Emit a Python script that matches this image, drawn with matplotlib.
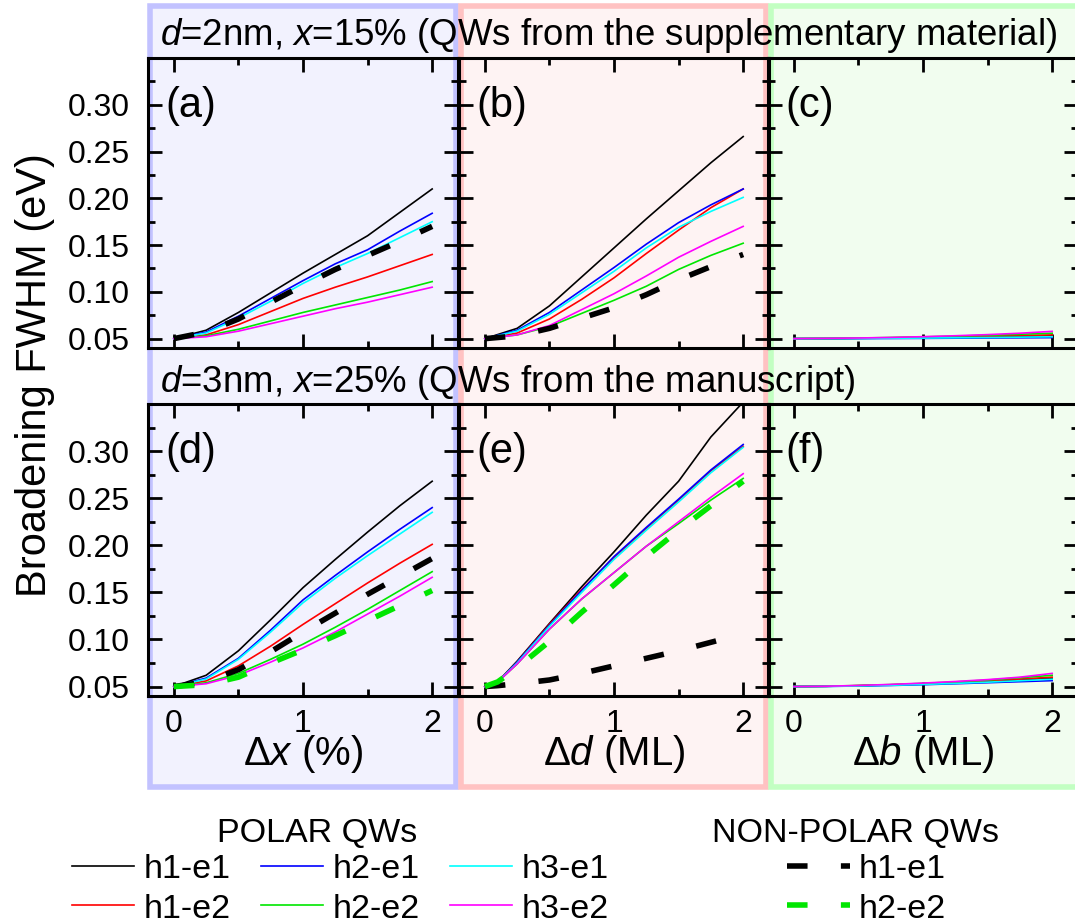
import matplotlib
matplotlib.use("Agg")
import matplotlib.pyplot as plt
from matplotlib.patches import Rectangle
from matplotlib.lines import Line2D
from matplotlib.ticker import FixedLocator, FormatStrFormatter

plt.rcParams['font.family'] = ['Liberation Sans', 'DejaVu Sans']
plt.rcParams['mathtext.fontset'] = 'custom'
plt.rcParams['mathtext.rm'] = 'Liberation Sans'
plt.rcParams['mathtext.it'] = 'Liberation Sans:italic'

# ---------------- data ----------------
XS = [0.0, 0.25, 0.5, 0.75, 1.0, 1.25, 1.5, 1.75, 2.0]
XS_E = [0.0, 0.1, 0.25, 0.5, 0.75, 1.0, 1.25, 1.5, 1.75, 2.0]

POLAR_NAMES = ['h1-e1', 'h1-e2', 'h2-e1', 'h2-e2', 'h3-e1', 'h3-e2']
POLAR_COLORS = ['#000000', '#ff0000', '#0000ff', '#00e600', '#00ffff', '#ff00ff']
NONPOLAR_NAMES = ['h1-e1', 'h2-e2']
NONPOLAR_COLORS = ['#000000', '#00e600']

# (a) d=2nm, x=15%, vs dx
a_h1e1 = [0.050, 0.059, 0.078, 0.099, 0.120, 0.140, 0.160, 0.185, 0.210]
a_h1e2 = [0.050, 0.054, 0.065, 0.079, 0.093, 0.105, 0.116, 0.128, 0.140]
a_h2e1 = [0.050, 0.057, 0.074, 0.093, 0.112, 0.130, 0.145, 0.165, 0.184]
a_h2e2 = [0.050, 0.053, 0.060, 0.069, 0.078, 0.086, 0.094, 0.102, 0.111]
a_h3e1 = [0.050, 0.056, 0.072, 0.090, 0.109, 0.126, 0.141, 0.158, 0.175]
a_h3e2 = [0.050, 0.052, 0.058, 0.066, 0.074, 0.082, 0.089, 0.097, 0.105]
a_np_h1e1 = [0.050, 0.057, 0.071, 0.089, 0.107, 0.124, 0.139, 0.154, 0.170]

# (b) d=2nm, x=15%, vs dd
b_h1e1 = [0.050, 0.061, 0.085, 0.116, 0.147, 0.178, 0.208, 0.238, 0.266]
b_h1e2 = [0.050, 0.056, 0.071, 0.092, 0.115, 0.141, 0.166, 0.190, 0.210]
b_h2e1 = [0.050, 0.059, 0.078, 0.102, 0.126, 0.151, 0.174, 0.193, 0.210]
b_h2e2 = [0.050, 0.054, 0.063, 0.077, 0.091, 0.106, 0.124, 0.139, 0.152]
b_h3e1 = [0.050, 0.058, 0.076, 0.099, 0.122, 0.147, 0.169, 0.186, 0.201]
b_h3e2 = [0.050, 0.054, 0.064, 0.081, 0.098, 0.117, 0.137, 0.154, 0.170]
b_np_h1e1 = [0.050, 0.053, 0.061, 0.072, 0.083, 0.097, 0.113, 0.127, 0.140]

# (c) d=2nm, x=15%, vs db
c_h1e1 = [0.050, 0.0501, 0.0503, 0.0506, 0.0510, 0.0514, 0.0519, 0.0524, 0.0530]
c_h1e2 = [0.050, 0.0502, 0.0505, 0.0509, 0.0514, 0.0520, 0.0526, 0.0533, 0.0540]
c_h2e1 = [0.050, 0.0500, 0.0501, 0.0502, 0.0503, 0.0505, 0.0507, 0.0509, 0.0511]
c_h2e2 = [0.050, 0.0502, 0.0506, 0.0512, 0.0519, 0.0527, 0.0536, 0.0547, 0.0558]
c_h3e1 = [0.050, 0.0501, 0.0502, 0.0504, 0.0506, 0.0509, 0.0512, 0.0516, 0.0520]
c_h3e2 = [0.050, 0.0503, 0.0507, 0.0513, 0.0521, 0.0531, 0.0543, 0.0558, 0.0578]

# (d) d=3nm, x=25%, vs dx
d_h1e1 = [0.050, 0.062, 0.088, 0.121, 0.155, 0.185, 0.214, 0.242, 0.268]
d_h1e2 = [0.050, 0.056, 0.072, 0.093, 0.116, 0.138, 0.160, 0.181, 0.201]
d_h2e1 = [0.050, 0.059, 0.080, 0.110, 0.142, 0.168, 0.193, 0.217, 0.240]
d_h2e2 = [0.050, 0.054, 0.064, 0.079, 0.095, 0.113, 0.132, 0.152, 0.172]
d_h3e1 = [0.050, 0.058, 0.079, 0.108, 0.139, 0.165, 0.189, 0.212, 0.235]
d_h3e2 = [0.050, 0.053, 0.062, 0.076, 0.091, 0.108, 0.127, 0.146, 0.166]
d_np_h1e1 = [0.050, 0.055, 0.068, 0.087, 0.108, 0.128, 0.148, 0.167, 0.186]
d_np_h2e2 = [0.050, 0.052, 0.060, 0.075, 0.089, 0.104, 0.120, 0.136, 0.152]

# (e) d=3nm, x=25%, vs dd
e_h1e1 = [0.050, 0.055, 0.077, 0.117, 0.156, 0.193, 0.232, 0.268, 0.315, 0.352]
e_h1e2 = [0.050, 0.055, 0.076, 0.116, 0.153, 0.187, 0.218, 0.248, 0.279, 0.305]
e_h2e1 = [0.050, 0.055, 0.076, 0.115, 0.152, 0.188, 0.219, 0.249, 0.280, 0.307]
e_h2e2 = [0.050, 0.055, 0.074, 0.111, 0.143, 0.171, 0.199, 0.223, 0.248, 0.271]
e_h3e1 = [0.050, 0.055, 0.075, 0.114, 0.150, 0.185, 0.216, 0.246, 0.277, 0.304]
e_h3e2 = [0.050, 0.055, 0.074, 0.111, 0.143, 0.171, 0.199, 0.225, 0.251, 0.276]
e_np_h1e1 = [0.050, 0.051, 0.053, 0.057, 0.064, 0.072, 0.080, 0.088, 0.097, 0.106]
e_np_h2e2 = [0.050, 0.055, 0.070, 0.098, 0.129, 0.158, 0.188, 0.216, 0.242, 0.268]

# (f) d=3nm, x=25%, vs db
f_h1e1 = [0.050, 0.0503, 0.0509, 0.0517, 0.0527, 0.0540, 0.0554, 0.0570, 0.0588]
f_h1e2 = [0.050, 0.0503, 0.0510, 0.0519, 0.0531, 0.0545, 0.0561, 0.0580, 0.0600]
f_h2e1 = [0.050, 0.0502, 0.0506, 0.0512, 0.0520, 0.0530, 0.0541, 0.0552, 0.0563]
f_h2e2 = [0.050, 0.0504, 0.0511, 0.0521, 0.0534, 0.0550, 0.0569, 0.0594, 0.0620]
f_h3e1 = [0.050, 0.0502, 0.0507, 0.0514, 0.0523, 0.0534, 0.0547, 0.0562, 0.0578]
f_h3e2 = [0.050, 0.0504, 0.0512, 0.0523, 0.0537, 0.0554, 0.0574, 0.0600, 0.0640]

PANEL_LABELS = ['(a)', '(b)', '(c)', '(d)', '(e)', '(f)']
ROW_TITLES = [r'$d$=2nm, $x$=15% (QWs from the supplementary material)',
              r'$d$=3nm, $x$=25% (QWs from the manuscript)']
X_LABELS = [r'Δ$x$ (%)', r'Δ$d$ (ML)', r'Δ$b$ (ML)']
Y_LABEL = 'Broadening FWHM (eV)'
X_TICKS = [0, 1, 2]
Y_TICKS = [0.05, 0.10, 0.15, 0.20, 0.25, 0.30]

panels = [
    (XS, [a_h1e1, a_h1e2, a_h2e1, a_h2e2, a_h3e1, a_h3e2], [a_np_h1e1, None]),
    (XS, [b_h1e1, b_h1e2, b_h2e1, b_h2e2, b_h3e1, b_h3e2], [b_np_h1e1, None]),
    (XS, [c_h1e1, c_h1e2, c_h2e1, c_h2e2, c_h3e1, c_h3e2], [None, None]),
    (XS, [d_h1e1, d_h1e2, d_h2e1, d_h2e2, d_h3e1, d_h3e2], [d_np_h1e1, d_np_h2e2]),
    (XS_E, [e_h1e1, e_h1e2, e_h2e1, e_h2e2, e_h3e1, e_h3e2], [e_np_h1e1, e_np_h2e2]),
    (XS, [f_h1e1, f_h1e2, f_h2e1, f_h2e2, f_h3e1, f_h3e2], [None, None]),
]

# ---------------- layout (pixel based) ----------------
W, H = 1075, 924
fig = plt.figure(figsize=(W / 100, H / 100), dpi=100)


def fx(px):
    return px / W


def fy(py):
    return 1 - py / H


COL_LEFT = [148, 459, 768]
COL_W = 310
ROW_TB = [(58, 348), (404, 696)]

# coloured column boxes
BOX_EDGES = ['#c2c2ff', '#ffc2c2', '#c2ffc2']
BOX_FILLS = ['#f2f2fe', '#fef3f3', '#f1fdef']
BOX_X = [(149.5, 455.5), (460.5, 765.5), (770.5, 1080)]
for (x0, x1), ec, fc in zip(BOX_X, BOX_EDGES, BOX_FILLS):
    fig.add_artist(Rectangle((fx(x0), fy(787)), fx(x1) - fx(x0), fy(6) - fy(787),
                             transform=fig.transFigure, facecolor=fc,
                             edgecolor=ec, linewidth=4, zorder=-2))

# row titles
for title, base in zip(ROW_TITLES, [45, 392]):
    fig.text(fx(160), fy(base), title, fontsize=26.4, ha='left', va='baseline')

axes = []
for r, (top, bot) in enumerate(ROW_TB):
    for c in range(3):
        ax = fig.add_axes([fx(COL_LEFT[c]), fy(bot), COL_W / W, (bot - top) / H])
        ax.set_facecolor('none')
        axes.append(ax)

for i, ax in enumerate(axes):
    r, c = divmod(i, 3)
    xs, polar, nonpolar = panels[i]
    for ys, col in zip(polar, POLAR_COLORS):
        ax.plot(xs, ys, color=col, lw=1.2, zorder=2)
    for ys, col in zip(nonpolar, NONPOLAR_COLORS):
        if ys is not None:
            ax.plot(xs, ys, color=col, lw=4, dashes=(3.7, 6.0), zorder=3)
    ax.set_xlim(-0.2, 2.2)
    ax.set_ylim(0.04, 0.35)
    ax.xaxis.set_major_locator(FixedLocator(X_TICKS))
    ax.xaxis.set_minor_locator(FixedLocator([0.5, 1.5]))
    ax.yaxis.set_major_locator(FixedLocator(Y_TICKS))
    ax.yaxis.set_minor_locator(FixedLocator([0.075, 0.125, 0.175, 0.225, 0.275, 0.325]))
    ax.yaxis.set_major_formatter(FormatStrFormatter('%.2f'))
    ax.tick_params(which='both', direction='in', top=True, right=True, width=2.0)
    ax.tick_params(which='major', length=10)
    ax.tick_params(which='minor', length=5)
    ax.tick_params(axis='y', labelsize=23, pad=13, labelleft=(c == 0))
    ax.tick_params(axis='x', labelsize=23, pad=9.5, labelbottom=(r == 1))
    for sp in ax.spines.values():
        sp.set_linewidth(2.2)
    ax.text(0.055, 0.835, PANEL_LABELS[i], transform=ax.transAxes,
            fontsize=30, ha='left', va='center')
    if r == 1:
        ax.set_xlabel(X_LABELS[c], fontsize=29)
        ax.xaxis.label.set_va('center')
        ax.xaxis.set_label_coords(0.5, -0.2)

fig.text(fx(35), fy(375), Y_LABEL, rotation=90, fontsize=30,
         ha='center', va='center')

# ---------------- legend ----------------
LEG_FS = 24.5
fig.text(fx(317), fy(842), 'POLAR QWs', fontsize=LEG_FS, ha='center', va='baseline')
fig.text(fx(856), fy(842), 'NON-POLAR QWs', fontsize=LEG_FS, ha='center', va='baseline')

row_mid = [866, 905]
col_handle = [(72, 134), (261, 323), (450, 512)]
for k, (name, col) in enumerate(zip(POLAR_NAMES, POLAR_COLORS)):
    c, r = divmod(k, 2)
    x0, x1 = col_handle[c]
    y = row_mid[r]
    fig.add_artist(Line2D([fx(x0), fx(x1)], [fy(y), fy(y)], color=col, lw=1.2,
                          transform=fig.transFigure))
    fig.text(fx(x1 + 10), fy(y + 12.5), name, fontsize=LEG_FS, ha='left', va='baseline')

for r, (name, col) in enumerate(zip(NONPOLAR_NAMES, NONPOLAR_COLORS)):
    y = row_mid[r]
    fig.add_artist(Line2D([fx(787), fx(850)], [fy(y), fy(y)], color=col, lw=4,
                          dashes=(3.7, 6.0), transform=fig.transFigure))
    fig.text(fx(859), fy(y + 12.5), name, fontsize=LEG_FS, ha='left', va='baseline')

fig.savefig('out.png', dpi=100)
